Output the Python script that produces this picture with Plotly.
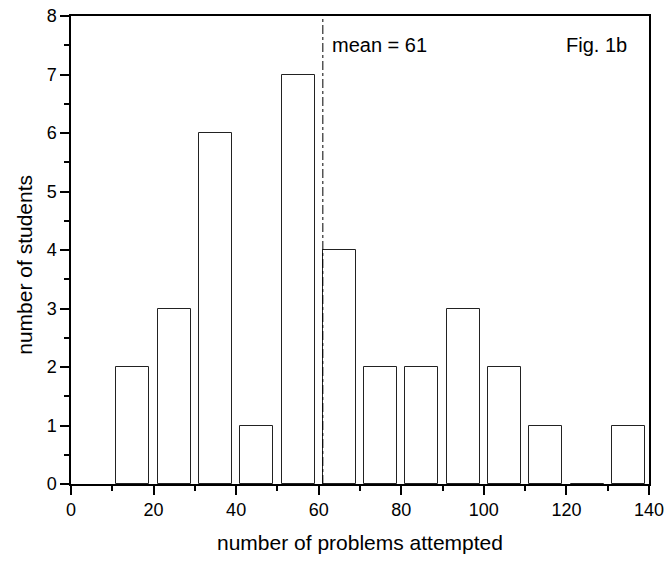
import plotly.graph_objects as go

bin_centers = [15, 25, 35, 45, 55, 65, 75, 85, 95, 105, 115, 125, 135]
counts = [2, 3, 6, 1, 7, 4, 2, 2, 3, 2, 1, 0, 1]
bar_width = 8
mean_value = 61
x_ticks = [0, 20, 40, 60, 80, 100, 120, 140]
y_ticks = [0, 1, 2, 3, 4, 5, 6, 7, 8]

FONT = "Arial, Liberation Sans, sans-serif"

fig = go.Figure()
fig.add_trace(go.Bar(
    x=bin_centers, y=counts, width=bar_width,
    marker=dict(color="white", line=dict(color="#222222", width=1)),
    showlegend=False, hoverinfo="x+y",
))

fig.add_shape(type="line", xref="x", yref="y", x0=mean_value, x1=mean_value,
              y0=0, y1=8, line=dict(color="black", width=1, dash="dashdot"))

fig.add_annotation(x=mean_value, y=7.5, xref="x", yref="y", text=f"mean = {mean_value}",
                   showarrow=False, xanchor="left", xshift=7,
                   font=dict(family=FONT, size=20, color="black"))
fig.add_annotation(x=0.965, y=7.5, xref="paper", yref="y", text="Fig. 1b",
                   showarrow=False, xanchor="right",
                   font=dict(family=FONT, size=20, color="black"))

# axis titles as annotations for precise placement
fig.add_annotation(x=0.5, y=-0.125, xref="paper", yref="paper",
                   text="number of problems attempted", showarrow=False,
                   xanchor="center", yanchor="middle",
                   font=dict(family=FONT, size=21, color="black"))
fig.add_annotation(x=-0.08, y=0.468, xref="paper", yref="paper",
                   text="number of students", showarrow=False, textangle=-90,
                   xanchor="center", yanchor="middle",
                   font=dict(family=FONT, size=21, color="black"))

axis_common = dict(showgrid=False, zeroline=False, showline=True, linecolor="black",
                   linewidth=1.5, mirror=True, ticks="outside", ticklen=9, tickwidth=1.5,
                   tickcolor="black", tickfont=dict(family=FONT, size=18, color="black"),
                   ticklabeloverflow="allow", automargin=False)

fig.update_xaxes(range=[0, 140], tickvals=x_ticks,
                 minor=dict(ticks="outside", ticklen=5, tickwidth=1.5, dtick=10, tick0=0, tickcolor="black"),
                 **axis_common)
fig.update_yaxes(range=[0, 8], tickvals=y_ticks,
                 minor=dict(ticks="outside", ticklen=5, tickwidth=1.5, dtick=0.5, tick0=0, tickcolor="black"),
                 **axis_common)

fig.update_layout(width=665, height=567, margin=dict(l=71, r=16, t=16, b=83, autoexpand=False),
                  plot_bgcolor="white", paper_bgcolor="white", bargap=0)

# remove the browser's default 8px body margin so the figure fills the window exactly
fig.write_html("out.html", config={"displayModeBar": False},
               post_script="document.body.style.margin='0';document.body.style.overflow='hidden';")
